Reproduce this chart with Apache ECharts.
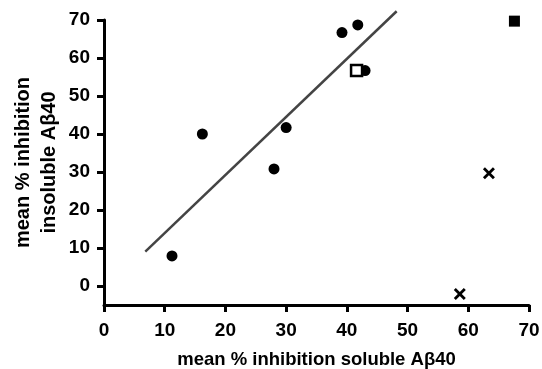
<!DOCTYPE html>
<html>
<head>
<meta charset="utf-8">
<script src="https://cdn.jsdelivr.net/npm/echarts@6/dist/echarts.min.js"></script>
<style>html,body{margin:0;padding:0;background:#fff;}#c{width:542px;height:369px;}</style>
</head>
<body>
<div id="c"></div>
<script>
// data
var circles = [[11.2, 7.9], [16.2, 40.0], [28.0, 30.8], [30.0, 41.7], [39.2, 66.7], [41.8, 68.7], [43.0, 56.7]];
var openSquare = [[41.6, 56.7]];
var filledSquare = [[67.6, 69.7]];
var crosses = [[63.4, 29.7], [58.6, -2.1]];
var fitLine = [[6.8, 9.05], [48.2, 72.3]];
var yTicks = [0, 10, 20, 30, 40, 50, 60, 70];
var xTitle = 'mean % inhibition soluble A\u03b240';
var yTitle = 'mean % inhibition\ninsoluble A\u03b240';

var font = 'Liberation Sans, Arial, sans-serif';
var chart = echarts.init(document.getElementById('c'), null, {renderer: 'canvas'});
var crossPath = 'path://M0,2L2,0L6,4L10,0L12,2L8,6L12,10L10,12L6,8L2,12L0,10L4,6Z';
chart.setOption({
  animation: false,
  backgroundColor: '#fff',
  grid: {left: 104, right: 13, top: 20, bottom: 64, containLabel: false, outerBoundsMode: 'none'},
  xAxis: {
    type: 'value', min: 0, max: 70, interval: 10,
    splitLine: {show: false},
    axisLine: {onZero: false, lineStyle: {color: '#000', width: 3}},
    axisTick: {length: 7, lineStyle: {color: '#000', width: 3}},
    axisLabel: {color: '#000', fontFamily: font, fontWeight: 'bold', fontSize: 19, margin: 16},
    name: xTitle, nameLocation: 'middle', nameGap: 45, nameMoveOverlap: false,
    nameTextStyle: {color: '#000', fontFamily: font, fontWeight: 'bold', fontSize: 18.5}
  },
  yAxis: {
    type: 'value', min: -5, max: 70,
    splitLine: {show: false},
    axisLine: {onZero: false, lineStyle: {color: '#000', width: 3}},
    axisTick: {length: 7, lineStyle: {color: '#000', width: 3}, customValues: yTicks},
    axisLabel: {color: '#000', fontFamily: font, fontWeight: 'bold', fontSize: 19, margin: 14, customValues: yTicks},
    name: yTitle, nameLocation: 'middle', nameGap: 42, nameRotate: 90, nameMoveOverlap: false,
    nameTextStyle: {color: '#000', fontFamily: font, fontWeight: 'bold', fontSize: 20, lineHeight: 26}
  },
  series: [
    {type: 'line', data: fitLine, symbol: 'none', clip: false, lineStyle: {color: '#444', width: 2.5}, z: 1},
    {type: 'scatter', data: circles, symbol: 'circle', symbolSize: 11, itemStyle: {color: '#000', opacity: 1}, z: 2},
    {type: 'scatter', data: openSquare, symbol: 'rect', symbolSize: 11, itemStyle: {color: '#fff', borderColor: '#000', borderWidth: 2.5, opacity: 1}, z: 3},
    {type: 'scatter', data: filledSquare, symbol: 'rect', symbolSize: 11, itemStyle: {color: '#000', opacity: 1}, z: 2},
    {type: 'scatter', data: crosses, symbol: crossPath, symbolSize: 12, itemStyle: {color: '#000', opacity: 1}, z: 2}
  ]
});
</script>
</body>
</html>
